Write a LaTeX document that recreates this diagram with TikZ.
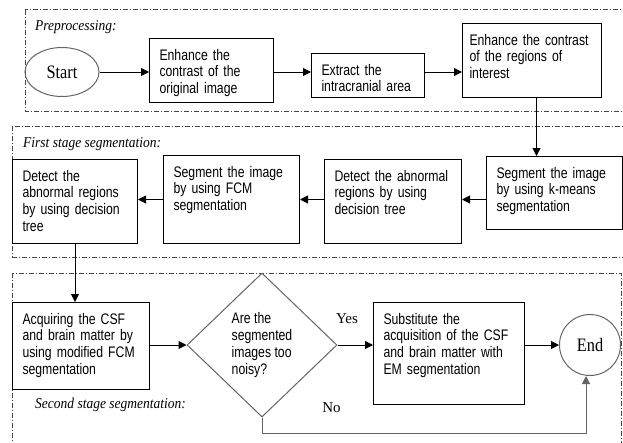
\documentclass[tikz,border=0pt]{standalone}
\usepackage{fontspec}
\setmainfont{Liberation Serif}
\newfontfamily\boxfont[FakeStretch=0.8]{Liberation Sans}
\newfontfamily\termfont[FakeStretch=0.86]{Liberation Serif}
\newfontfamily\stagefont[FakeStretch=0.9]{Liberation Serif}
\usetikzlibrary{shapes.geometric,arrows.meta}
\definecolor{frm}{RGB}{70,70,70}
\definecolor{outl}{RGB}{100,100,100}
\begin{document}
\begin{tikzpicture}[x=1pt, y=-1pt,
  bx/.style={rectangle, draw=black, line width=1pt, anchor=north west, align=left, inner xsep=10pt, inner ysep=0pt, text height=21.5pt, font=\boxfont\fontsize{15.3}{16.8}\selectfont},
  term/.style={draw=outl, line width=1pt, inner sep=0pt, font=\termfont\fontsize{19}{22}\selectfont},
  stage/.style={anchor=base west, inner sep=0pt, font=\stagefont\itshape\fontsize{15}{18}\selectfont},
  yn/.style={anchor=base, inner sep=0pt, font=\fontsize{15}{18}\selectfont},
  frame/.style={draw=frm, line width=0.9pt, dash pattern=on 5pt off 2pt on 1pt off 2pt},
  ar/.style={draw=black, line width=1pt, -{Triangle[length=8pt, width=8pt]}},
  gar/.style={draw=outl, line width=1pt, -{Triangle[length=8pt, width=8pt]}}]
\useasboundingbox (0,0) rectangle (623,442);
% stage frames
\draw[frame] (25,9.5) rectangle (630,111);
\draw[frame] (12.5,126) rectangle (630,257);
\draw[frame] (12.5,273) rectangle (621,450);
\node[stage] (lp) at (35,30.5) {Preprocessing:};
\node[stage] (lf) at (23,147) {First stage segmentation:};
\node[stage] (ls) at (35,408) {Second stage segmentation:};
% preprocessing
\node[term, ellipse, minimum width=74pt, minimum height=49pt] (st) at (62,72) {Start};
\node[bx, text width=104pt, text depth=42.5pt] (b1) at (149,38) {Enhance the\\contrast of the\\original image};
\node[bx, text width=93pt, text depth=22.5pt] (b2) at (311,53) {Extract the\\intracranial area};
\node[bx, inner xsep=7pt, text width=125pt, text depth=52.5pt] (b3) at (462,23) {Enhance the contrast\\of the regions of\\interest};
% first stage
\node[bx, text width=116pt, text depth=51.5pt] (l4) at (486,156) {Segment the image\\by using k-means\\segmentation};
\node[bx, text width=117pt, text depth=62.5pt] (l3) at (324,159) {Detect the abnormal\\regions by using\\decision tree};
\node[bx, text width=116pt, text depth=66.5pt] (l2) at (163,155) {Segment the image\\by using FCM\\segmentation};
\node[bx, text width=105pt, text depth=62.5pt] (l1) at (12,159) {Detect the\\abnormal regions\\by using decision\\tree};
% second stage
\node[bx, text width=117pt, text depth=65.5pt] (a1) at (12,302) {Acquiring the CSF\\and brain matter by\\using modified FCM\\segmentation};
\node[diamond, draw=outl, line width=1pt, minimum width=150pt, minimum height=144pt, inner sep=0pt, align=left, font=\boxfont\fontsize{15.3}{16.8}\selectfont] (dm) at (262,345) {Are the\\segmented\\images too\\noisy?};
\node[bx, text width=131pt, text depth=80.5pt] (sb) at (373,302) {Substitute the\\acquisition of the CSF\\and brain matter with\\EM segmentation};
\node[term, circle, minimum size=61pt] (en) at (590,345) {End};
\node[yn] (yes) at (347,323) {Yes};
\node[yn] (no) at (331.5,412) {No};
% connectors
\draw[ar] (st) -- (b1.west |- st);
\draw[ar] (b1.east |- st) -- (b2.west |- st);
\draw[ar] (b2.east |- st) -- (b3.west |- st);
\draw[ar] ([xshift=4.5pt]b3.south) -- ([xshift=4.5pt]b3.south |- l4.north);
\draw[ar] (l4.west |- l2) -- (l3.east |- l2);
\draw[ar] (l3.west |- l2) -- (l2.east);
\draw[ar] (l2.west) -- (l1.east |- l2);
\draw[ar] (l1.south) -- (l1.south |- a1.north);
\draw[ar] (a1.east |- dm) -- (dm.west);
\draw[ar] (dm.east) -- (sb.west |- dm);
\draw[ar] (sb.east |- en) -- (en.west);
\draw[gar] (dm.south) -- ++(0,16) -| ([xshift=-4pt]en.south);
\end{tikzpicture}
\end{document}
